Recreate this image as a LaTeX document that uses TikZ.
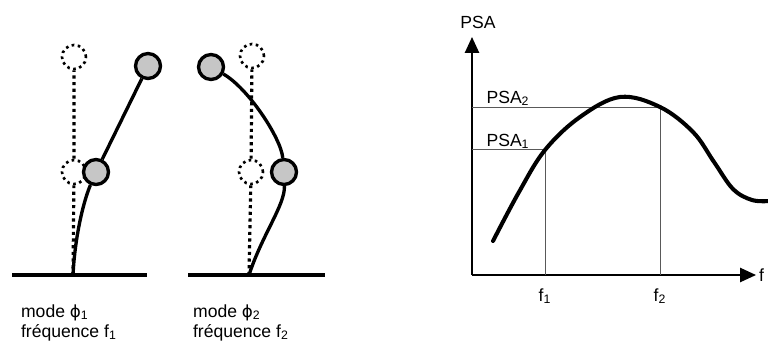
\documentclass[tikz,border=0pt]{standalone}
\usepackage{fontspec}
\setmainfont{Liberation Sans}
\newfontfamily\greekfont{DejaVu Sans}
\usepackage{tikz}
\usetikzlibrary{arrows.meta, positioning, calc}

\tikzset{
    mass/.style={circle, draw=black, line width=1.9pt, fill=gray!45, minimum size=0.5cm, inner sep=0pt},
    ghost/.style={circle, draw=black, dotted, line width=1.5pt, minimum size=0.48cm, inner sep=0pt},
    rod/.style={line width=1.9pt},
    rest/.style={line width=1.8pt, dotted},
    ground/.style={line width=2pt},
    guide/.style={gray!70!black, line width=0.5pt},
    label/.style={font=\fontsize{10}{11.5}\selectfont, inner sep=1pt}
}
\newcommand{\modephi}{{\greekfont\fontsize{9.5}{11}\selectfont ϕ}}

\begin{document}
\begin{tikzpicture}[x=0.2mm, y=-0.2mm]
        \useasboundingbox (0,0) rectangle (768,341);

        % Mode 1
        \draw[ground] (12,275) -- (147,275);
        \coordinate (base1) at (73,275);
        \node[ghost] (g1a) at (74,172) {};
        \node[ghost] (g1b) at (74,57) {};
        \draw[rest] (base1) -- (g1a) -- (g1b);
        \node[mass] (m1a) at (96,172) {};
        \node[mass] (m1b) at (148,66) {};
        \draw[rod] (base1) .. controls (75,235) and (84,200) .. (m1a);
        \draw[rod] (m1a) -- (m1b);
        \node[label, anchor=base west] (mode1) at (19,317) {mode \modephi\textsubscript{1}};
        \node[label, anchor=base west] (freq1) at (19,337) {fréquence f\textsubscript{1}};

        % Mode 2
        \draw[ground] (188,275) -- (325,275);
        \coordinate (base2) at (249,275);
        \node[ghost] (g2a) at (251,172) {};
        \node[ghost] (g2b) at (252,56) {};
        \draw[rest] (base2) -- (g2a) -- (g2b);
        \node[mass] (m2a) at (284,172) {};
        \node[mass] (m2b) at (211,67) {};
        \draw[rod] (base2) .. controls (262,235) and (285,205) .. (m2a);
        \draw[rod] (m2a) .. controls (281,138) and (248,88) .. (m2b);
        \node[label, anchor=base west] (mode2) at (191,317) {mode \modephi\textsubscript{2}};
        \node[label, anchor=base west] (freq2) at (191,337) {fréquence f\textsubscript{2}};

        % Spectrum
        \coordinate (origin) at (472,275);
        \draw[line width=1.1pt, -{Triangle[length=9pt, width=8pt]}] (origin) -- (472,37);
        \draw[line width=1.1pt, -{Triangle[length=9pt, width=8pt]}] (origin) -- (756,275);
        \node[label, anchor=base] (psa) at (478,28) {PSA};
        \node[label, anchor=west] (faxis) at (757,275) {f};

        \draw[guide] (472,107) -- (660,107) -- (660,275);
        \draw[guide] (472,149) -- (545,149) -- (545,275);
        \node[label, anchor=base] (psa2) at (508,103) {PSA\textsubscript{2}};
        \node[label, anchor=base] (psa1) at (508,146) {PSA\textsubscript{1}};
        \node[label] (f1) at (545,296) {f\textsubscript{1}};
        \node[label] (f2) at (660,296) {f\textsubscript{2}};

        \draw[line width=2.3pt, line cap=round] plot[smooth, tension=0.6] coordinates
            {(493,241) (519,192) (545,150) (580,117) (620,97) (660,107) (693,132) (714,162) (733,189) (752,200) (770,201)};
    \end{tikzpicture}
\end{document}
